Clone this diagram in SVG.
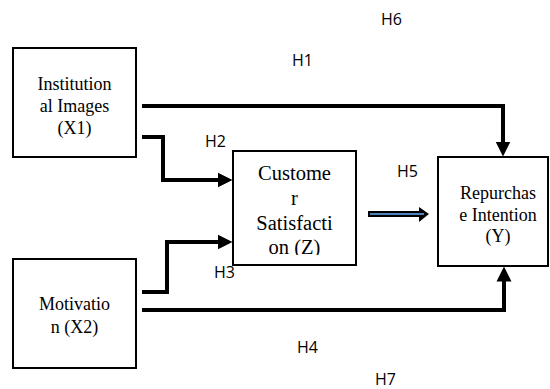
<svg xmlns="http://www.w3.org/2000/svg" width="550" height="389" viewBox="0 0 550 389">
<style>
.box{fill:#fff;stroke:#000;stroke-width:2}
.t{font-family:"Liberation Serif","Times New Roman",serif;font-size:18px;fill:#000;text-anchor:middle}
.tz{font-family:"Liberation Serif","Times New Roman",serif;font-size:20.5px;fill:#000;text-anchor:middle}
.lbl{font-family:"Open Sans","DejaVu Sans",sans-serif;font-size:16px;fill:#000}
.c{fill:none;stroke:#000;stroke-width:4}
</style>
<defs>
<marker id="ah" markerUnits="userSpaceOnUse" markerWidth="16" markerHeight="16" viewBox="0 0 16 16" refX="0.5" refY="8" orient="auto">
<path d="M0,0.5 L15,8 L0,15.5 Z" fill="#000"/>
</marker>
<clipPath id="zc"><rect x="233" y="151" width="123" height="104"/></clipPath>
</defs>
<rect width="550" height="389" fill="#fff"/>
<g id="connectors">
<polyline class="c" points="142,106 503,106 503,142" marker-end="url(#ah)"/>
<polyline class="c" points="142,137 163,137 163,180 218,180" marker-end="url(#ah)"/>
<polyline class="c" points="142,292 167,292 167,242 218,242" marker-end="url(#ah)"/>
<polyline class="c" points="142,310 504,310 504,281" marker-end="url(#ah)"/>
<g id="h5arrow">
<line x1="368" y1="214" x2="424" y2="214" stroke="#000" stroke-width="6"/>
<path d="M419,207 L429,214 L419,222 Z" fill="#000"/>
<line x1="370" y1="214" x2="424" y2="214" stroke="#4f81bd" stroke-width="2"/>
</g>
</g>
<g id="X1">
<rect class="box" x="13" y="48" width="123" height="109"/>
<text class="t" x="74.5" y="90">Institution</text>
<text class="t" x="74.5" y="112">al Images</text>
<text class="t" x="74.5" y="134">(X1)</text>
</g>
<g id="X2">
<rect class="box" x="13" y="259" width="123" height="109"/>
<text class="t" x="74.5" y="310">Motivatio</text>
<text class="t" x="74.5" y="333">n (X2)</text>
</g>
<g id="Z">
<rect class="box" x="233" y="151" width="123" height="114"/>
<g clip-path="url(#zc)">
<text class="tz" x="294.5" y="180">Custome</text>
<text class="tz" x="294.5" y="205">r</text>
<text class="tz" x="294.5" y="230">Satisfacti</text>
<text class="tz" x="294.5" y="254">on (Z)</text>
</g>
</g>
<g id="Y">
<rect class="box" x="438" y="157" width="110" height="109"/>
<text class="t" x="498" y="199">Repurchas</text>
<text class="t" x="498" y="221">e Intention</text>
<text class="t" x="498" y="242">(Y)</text>
</g>
<g id="labels">
<text class="lbl" x="381" y="25">H6</text>
<text class="lbl" x="292" y="66">H1</text>
<text class="lbl" x="205" y="147">H2</text>
<text class="lbl" x="397" y="177">H5</text>
<text class="lbl" x="214" y="278">H3</text>
<text class="lbl" x="297" y="353">H4</text>
<text class="lbl" x="375" y="385">H7</text>
</g>
</svg>
